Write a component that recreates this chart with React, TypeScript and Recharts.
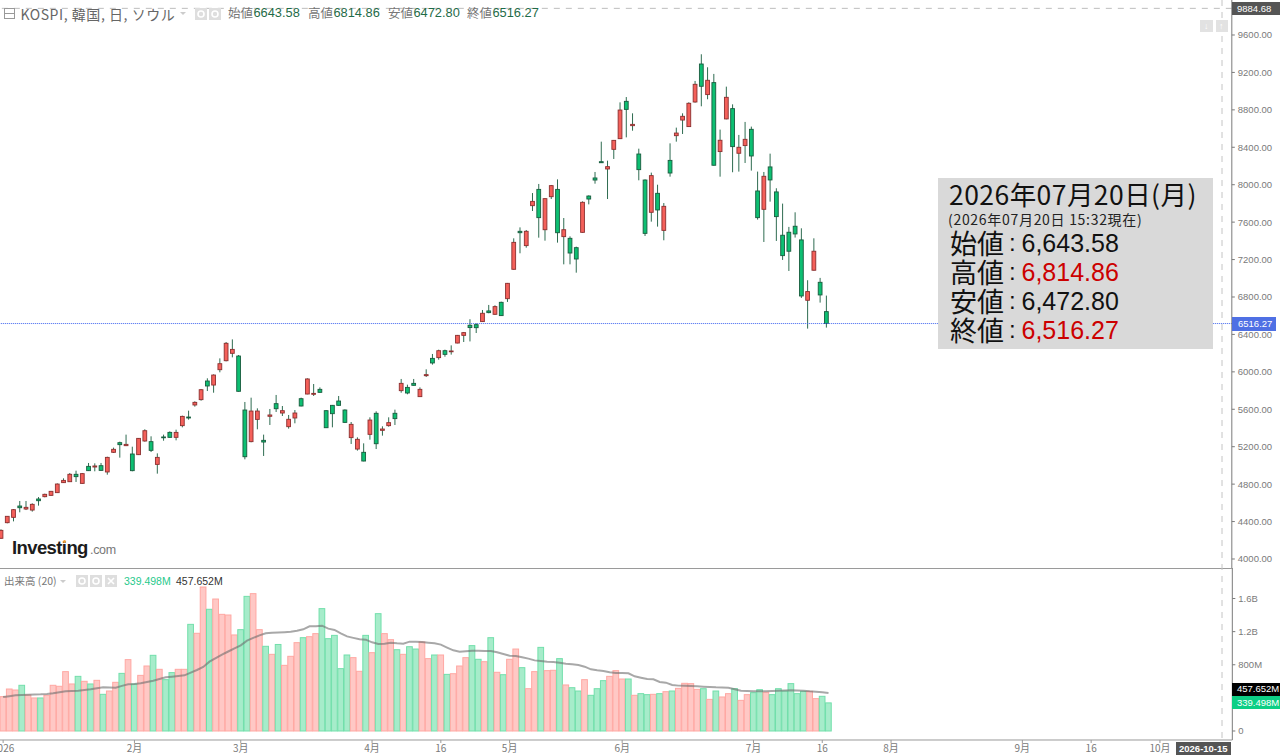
import React from "react";
import { ComposedChart, Bar, Line, XAxis, YAxis, ReferenceLine } from "recharts";

const opens = [4221,4388,4445,4566,4534,4523,4641,4666,4680,4709,4816,4826,4905,4808,4990,4983,4997,4930,5140,5243,5211,5122,5115,5261,5254,5011,5304,5353,5300,5425,5517,5646,5703,5902,5859,6023,6119,6198,6169,5592,5254,5492,5268,5525,5660,5560,5414,5507,5713,5763,5760,5813,5585,5642,5688,5592,5297,5175,5140,5332,5557,5375,5425,5557,5799,5834,5877,5735,5959,6144,6152,6226,6216,6308,6390,6498,6504,6537,6651,6615,6743,6782,7096,7502,7349,7776,7950,7519,7872,7950,7445,7427,7327,7491,7879,8072,8246,8168,8378,8492,8891,8631,8328,8050,7705,7908,7512,8260,8524,8691,8621,8884,9290,8963,9091,8354,8703,8813,8336,8418,8592,7933,7737,8190,7923,7460,7492,7556,7410,6765,7086,6957,6643.58];
const closes = [4306,4456,4527,4548,4552,4584,4623,4691,4723,4801,4840,4905,4880,4912,4944,4994,4947,5086,5172,5222,5225,4944,5289,5371,5161,5086,5296,5300,5353,5524,5507,5674,5809,5849,5966,6087,6305,6240,5792,5093,5581,5581,5250,5539,5606,5585,5493,5560,5635,5924,5770,5781,5403,5553,5642,5460,5439,5279,5047,5485,5232,5389,5457,5500,5877,5774,5856,5813,5970,6095,6226,6187,6223,6390,6419,6473,6472,6626,6633,6697,6601,6946,7384,7487,7502,7822,7648,7851,7990,7487,7519,7270,7206,7812,7847,8050,8235,8193,8474,8798,8805,8645,8161,7480,8097,7730,7769,8125,8552,8731,8870,9073,9052,9116,8208,8475,8934,8407,8400,8485,8307,7648,8090,8051,7659,7242,7289,7474,6811,6858,7289,6822,6516.27];
const highs = [4317,4459,4534,4620,4620,4595,4662,4698,4727,4808,4862,4919,4944,4919,5026,5022,5026,5093,5190,5254,5329,5200,5293,5386,5311,5129,5329,5364,5382,5532,5585,5685,5817,5931,5973,6144,6319,6347,6180,5678,5724,5610,5329,5603,5753,5635,5539,5592,5724,5931,5870,5834,5589,5646,5742,5599,5464,5300,5236,5514,5578,5418,5514,5596,5924,5863,5924,5834,6027,6191,6237,6237,6283,6394,6426,6562,6518,6661,6715,6711,6750,6950,7427,7544,7516,7911,8008,7854,7997,8057,7644,7448,7338,7822,7886,8136,8460,8257,8478,8880,8937,8763,8385,8057,8129,8000,7804,8442,8610,8763,8881,9109,9394,9255,9184,8589,9048,8859,8532,8671,8621,8140,8136,8332,7962,7798,7549,7705,7534,6979,7427,7004,6814.86];
const lows = [4217,4381,4402,4499,4523,4506,4570,4659,4677,4705,4812,4823,4823,4805,4940,4937,4944,4901,5133,5083,5207,4937,5111,5254,5143,4912,5264,5296,5268,5407,5489,5628,5692,5795,5777,5995,6112,6155,5788,5065,5247,5386,5101,5432,5571,5528,5393,5450,5631,5760,5742,5777,5400,5407,5639,5453,5229,5158,5044,5275,5175,5318,5414,5432,5777,5760,5852,5731,5945,6077,6130,6162,6184,6305,6319,6325,6415,6533,6626,6608,6597,6747,7092,7267,7327,7719,7434,7402,7847,7381,7149,7149,7060,7487,7790,8011,8232,7847,8275,8488,8506,8577,8047,7452,7605,7552,7406,8086,8460,8542,8617,8877,8838,8913,8204,8086,8699,8133,8140,8232,8151,7627,7388,7819,7399,7196,7078,7435,6790,6462,7082,6740,6472.8];
const volumes = [415,507,495,552,435,399,399,431,552,540,717,568,660,600,568,612,443,483,588,696,862,568,672,785,914,745,620,705,745,745,1288,1180,1739,1470,1594,1409,1401,1160,1224,1626,1659,1224,1023,926,1045,793,902,1067,1127,1139,1176,1478,1115,1155,753,918,886,721,1155,946,1417,1176,1103,982,926,1018,990,1075,874,918,918,684,692,785,886,1031,866,837,1127,709,680,866,990,765,511,717,1010,729,733,874,556,523,483,620,431,511,608,660,729,628,628,431,451,439,443,451,475,483,515,576,572,503,511,382,483,411,451,511,370,439,463,499,467,439,511,483,572,451,479,479,391,419,339.498];
const volumeMA = [411,421,431,435,439,441,443,448,455,467,479,483,487,495,503,515,527,525,523,545,564,568,576,592,608,628,648,656,664,672,705,737,773,837,880,922,960,998,1035,1091,1125,1155,1180,1186,1190,1194,1198,1212,1228,1264,1264,1272,1236,1220,1180,1143,1125,1107,1103,1071,1051,1055,1067,1060,1055,1079,1078,1075,1067,1059,1043,1008,974,958,964,970,968,967,966,950,930,910,906,890,874,853,845,837,833,823,813,805,797,777,745,733,725,709,701,699,697,660,644,628,624,592,584,556,548,546,544,540,535,531,527,525,523,505,487,483,479,479,479,483,487,489,491,489,487,479,473,467,457.652];

const SLOTS = 197;
const priceTicks = [4000,4400,4800,5200,5600,6000,6400,6800,7200,7600,8000,8400,8800,9200,9600];
const volumeTicks = [0,800,1200,1600];
const dateTickSlots = [0,21,38,59,70,81,99,120,131,142,163,174,185];
const dateTickLabels = ["2026","2月","3月","4月","16","5月","6月","7月","16","8月","9月","16","10月"];

const rows = Array.from({ length: SLOTS }, (_, i) =>
  i < opens.length
    ? { slot: i, open: opens[i], close: closes[i], high: highs[i], low: lows[i], volume: volumes[i], ma: volumeMA[i] }
    : { slot: i, open: null, close: null, high: null, low: null, volume: null, ma: null }
);

const LATIN = '"Liberation Sans", Arial, sans-serif';
const CJK = '"Noto Sans CJK JP", "Liberation Sans", sans-serif';
const AXIS = "#7a7a7a";
const LINE = "#9a9a9a";

function Candle(props: any) {
  const { x, y, width, height, payload } = props;
  if (payload == null || payload.high == null) return null;
  const cx = x + width / 2;
  const span = payload.high - payload.low || 1;
  const at = (v: number) => y + ((payload.high - v) / span) * height;
  const up = payload.close >= payload.open;
  const top = at(Math.max(payload.open, payload.close));
  const bot = at(Math.min(payload.open, payload.close));
  return (
    <g>
      <line x1={cx} x2={cx} y1={y} y2={y + height} stroke="#2e6b50" strokeWidth={1} />
      <rect
        x={cx - 1.9}
        y={top}
        width={3.8}
        height={Math.max(bot - top, 0.8)}
        fill={up ? "#f4605a" : "#0dbf72"}
        stroke={up ? "#8c2f2f" : "#185c3e"}
        strokeWidth={0.9}
      />
    </g>
  );
}

function VolumeBar(props: any) {
  const { x, y, width, height, payload } = props;
  if (payload == null || payload.volume == null) return null;
  const up = payload.close >= payload.open;
  const cx = x + width / 2;
  return (
    <rect
      x={cx - 2.85}
      y={y}
      width={5.7}
      height={height}
      fill={up ? "#ffc8c5" : "#a6ecca"}
      stroke={up ? "#ffa8a3" : "#72dfab"}
      strokeWidth={1}
    />
  );
}

const priceTick = (v: number) => v.toFixed(2);
const volTick = (v: number) => (v === 0 ? "0" : v >= 1000 ? `${(v / 1000).toFixed(1)}B` : `${v}M`);
const dateTick = (v: number) => dateTickLabels[dateTickSlots.indexOf(v)] ?? "";

function Abs({ x, y, w, h, bg, children, style }: any) {
  return (
    <div style={{ position: "absolute", boxSizing: "border-box", left: x, top: y, width: w, height: h, background: bg, whiteSpace: "nowrap", ...style }}>
      {children}
    </div>
  );
}

function Txt({ x, y, size, color, font, children, style }: any) {
  return (
    <div style={{ position: "absolute", left: x, top: y - size / 2, fontSize: size, lineHeight: `${size}px`, color, fontFamily: font ?? CJK, whiteSpace: "nowrap", ...style }}>
      {children}
    </div>
  );
}

function Row({ y, label, value, red }: any) {
  return (
    <>
      <Txt x={950} y={y - 1} size={27} color="#111">{label}</Txt>
      <Txt x={1009} y={y} size={24} color="#111" font={LATIN}>:</Txt>
      <Txt x={1021.5} y={y} size={25} color={red ? "#cc0000" : "#111"} font={LATIN}>{value}</Txt>
    </>
  );
}

function IconBox({ x, y, kind }: any) {
  return (
    <Abs x={x} y={y} w={12} h={12} bg="#dedede">
      {kind === "x" ? (
        <svg width={12} height={12} style={{ display: "block" }}>
          <path d="M3 3L9 9M9 3L3 9" stroke="#fff" strokeWidth={1.6} />
        </svg>
      ) : (
        <svg width={12} height={12} style={{ display: "block" }}>
          <circle cx={6} cy={6} r={3} fill="none" stroke="#fff" strokeWidth={1.6} />
        </svg>
      )}
    </Abs>
  );
}

export default function App() {
  return (
    <div style={{ position: "fixed", left: 0, top: 0, width: 1280, height: 755, overflow: "hidden", background: "#fff" }}>
      <div style={{ position: "absolute", left: -1.82, top: 0 }}>
        <ComposedChart width={1281.82} height={569} data={rows} margin={{ top: 0, right: 0, bottom: 0, left: 0 }} barCategoryGap={0} barGap={0}>
          <XAxis dataKey="slot" type="category" hide padding={{ left: 0, right: 2 }} />
          <YAxis
            orientation="right"
            width={48}
            domain={[3893, 9974]}
            allowDataOverflow
            ticks={priceTicks}
            tickFormatter={priceTick}
            interval={0}
            tick={{ fontSize: 9.5, fill: AXIS, fontFamily: LATIN }}
            tickSize={3}
            tickMargin={3}
            stroke={AXIS}
          />
          <ReferenceLine y={9884.68} stroke="#bdbdbd" strokeDasharray="6 6" />
          <ReferenceLine y={6516.27} stroke="#3a62f0" strokeDasharray="1 1" />
          <Bar dataKey={(d: any) => (d.high == null ? null : [d.low, d.high])} shape={Candle} isAnimationActive={false} />
        </ComposedChart>
      </div>

      <div style={{ position: "absolute", left: -0.32, top: 568 }}>
        <ComposedChart width={1280.32} height={187} data={rows} margin={{ top: 0, right: 0, bottom: 0, left: 0 }} barCategoryGap={0} barGap={0}>
          <XAxis
            dataKey="slot"
            type="category"
            padding={{ left: 0, right: 0.48 }}
            ticks={dateTickSlots}
            interval={0}
            tickFormatter={dateTick}
            height={15}
            tick={{ fontSize: 10, fill: AXIS, fontFamily: CJK }}
            tickSize={3}
            tickMargin={1.5}
            stroke={LINE}
          />
          <YAxis
            orientation="right"
            width={48}
            domain={[-108.7, 1968.6]}
            allowDataOverflow
            ticks={volumeTicks}
            tickFormatter={volTick}
            interval={0}
            tick={{ fontSize: 9.5, fill: AXIS, fontFamily: LATIN }}
            tickSize={3}
            tickMargin={3}
            stroke={AXIS}
          />
          <Bar dataKey="volume" shape={VolumeBar} isAnimationActive={false} />
          <Line dataKey="ma" stroke="#6e6e6e" strokeOpacity={0.6} strokeWidth={2} dot={false} isAnimationActive={false} connectNulls={false} />
        </ComposedChart>
      </div>

      {/* panel furniture */}
      <Abs x={0} y={568} w={1232} h={1} bg="#9a9a9a" />
      <svg style={{ position: "absolute", left: 0, top: 0 }} width={1280} height={755}>
        <line x1={1222} x2={1222} y1={0} y2={742} stroke="#c4c4c4" strokeDasharray="6 6" strokeWidth={1} />
      </svg>
      <Abs x={1200} y={20} w={13} h={12} bg="#e2e2e2" />
      <Abs x={1216} y={20} w={12} h={12} bg="#e2e2e2" />
      <Txt x={1204} y={26} size={9} color="#fff" font={LATIN}>↓</Txt>
      <Txt x={1219} y={26} size={9} color="#fff" font={LATIN}>↑</Txt>

      {/* header */}
      <Abs x={3.5} y={8} w={11} h={11} style={{ border: "1px solid #999" }}>
        <div style={{ marginTop: 3.5, height: 1, background: "#999" }} />
      </Abs>
      <Txt x={20.5} y={13.5} size={14} color="#666" style={{ letterSpacing: 0.55 }}>KOSPI, 韓国, 日, ソウル</Txt>
      <Abs x={180} y={12} w={0} h={0} style={{ borderLeft: "3px solid transparent", borderRight: "3px solid transparent", borderTop: "3px solid #ccc" }} />
      <IconBox x={195} y={8} />
      <IconBox x={209} y={8} />
      {[["始値", "6643.58", 228], ["高値", "6814.86", 308], ["安値", "6472.80", 388], ["終値", "6516.27", 467]].map(([a, b, x]: any) => (
        <React.Fragment key={a}>
          <Txt x={x} y={13.5} size={12.5} color="#777">{a}</Txt>
          <Txt x={x + 25.5} y={13.5} size={12.8} color="#1f6b48" font={LATIN}>{b}</Txt>
        </React.Fragment>
      ))}

      {/* watermark */}
      <Txt x={12} y={548} size={18.5} color="#1c1c1c" font={LATIN} style={{ fontWeight: 700, letterSpacing: -0.6 }}>Investing</Txt>
      <Abs x={63} y={540} w={2.5} h={2.5} bg="#f2a23a" style={{ borderRadius: 2 }} />
      <Txt x={90} y={550} size={12.5} color="#777" font={LATIN} style={{ letterSpacing: -0.3 }}>.com</Txt>

      {/* volume header */}
      <Txt x={4} y={581} size={10.5} color="#777">出来高 (20)</Txt>
      <Abs x={60} y={580} w={0} h={0} style={{ borderLeft: "3px solid transparent", borderRight: "3px solid transparent", borderTop: "3px solid #ccc" }} />
      <IconBox x={76} y={575} />
      <IconBox x={90} y={575} />
      <IconBox x={105} y={575} kind="x" />
      <Txt x={124} y={581} size={10.5} color="#27c98c" font={LATIN}>339.498M</Txt>
      <Txt x={176} y={581} size={10.5} color="#333" font={LATIN}>457.652M</Txt>

      {/* quote box */}
      <Abs x={938} y={177.5} w={275} h={171.5} bg="#d9d9d9" />
      <Txt x={949} y={194} size={26.5} color="#111" style={{ letterSpacing: 0.45 }}>2026年07月20日(月)</Txt>
      <Txt x={948} y={218.5} size={14} color="#222" style={{ letterSpacing: 0.7 }}>(2026年07月20日 15:32現在)</Txt>
      <Row y={243} label="始値" value="6,643.58" />
      <Row y={272} label="高値" value="6,814.86" red />
      <Row y={301} label="安値" value="6,472.80" />
      <Row y={330} label="終値" value="6,516.27" red />

      {/* axis badges */}
      <Abs x={1232} y={2} w={48} h={13} bg="#555" />
      <Txt x={1237} y={8.5} size={9.5} color="#fff" font={LATIN}>9884.68</Txt>
      <Abs x={1232} y={317} w={44} h={14} bg="#4f70e4" />
      <Txt x={1238} y={324} size={9.5} color="#fff" font={LATIN}>6516.27</Txt>
      <Abs x={1232} y={683} w={48} h={12.5} bg="#000" />
      <Txt x={1237} y={689} size={9.5} color="#fff" font={LATIN}>457.652M</Txt>
      <Abs x={1232} y={696} w={48} h={13} bg="#0dcf85" />
      <Txt x={1237} y={702.5} size={9.5} color="#fff" font={LATIN}>339.498M</Txt>
      <Abs x={1176} y={742} w={54.5} h={13} bg="#555" />
      <Txt x={1179} y={748.5} size={9.5} color="#fff" font={LATIN} style={{ fontWeight: 700 }}>2026-10-15</Txt>
    </div>
  );
}
